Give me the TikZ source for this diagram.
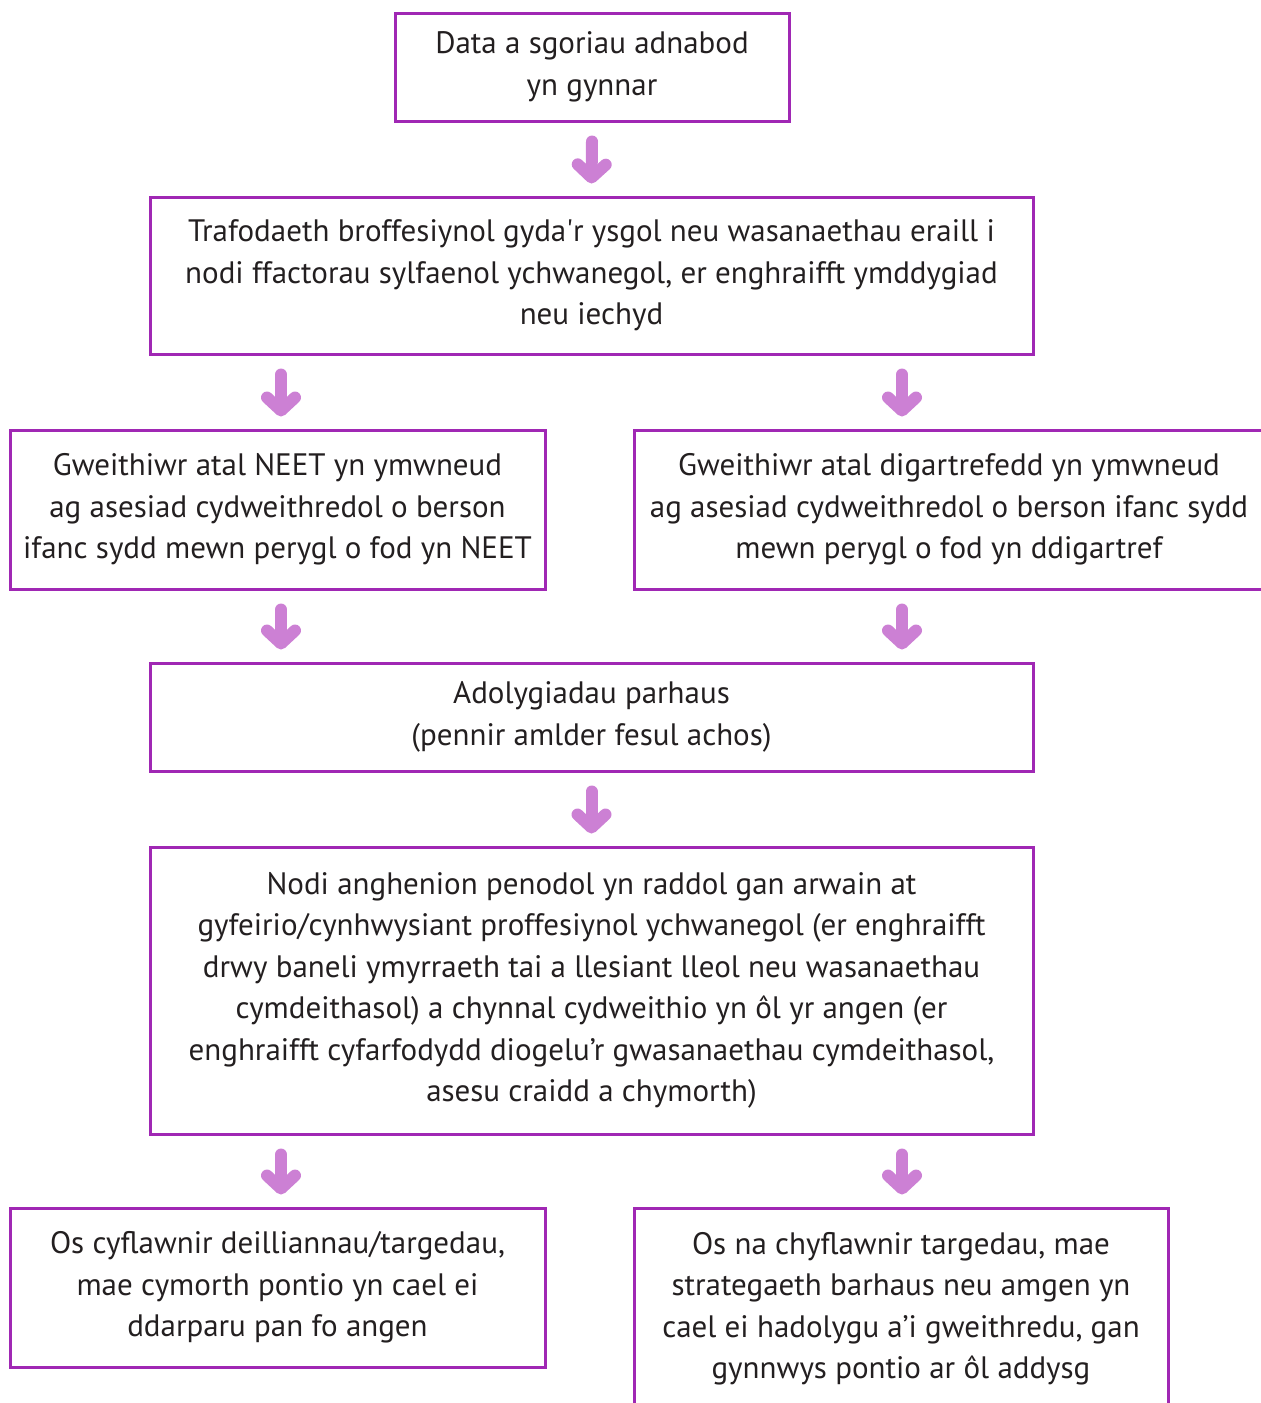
\documentclass[tikz,border=0pt]{standalone}
\usepackage{fontspec}
\setmainfont{PT Sans}
\usetikzlibrary{arrows.meta}
\definecolor{boxpurple}{RGB}{160,40,180}
\definecolor{arrowpink}{RGB}{204,128,212}
\definecolor{textgrey}{RGB}{35,31,32}
\tikzset{
  stagebox/.style={draw=boxpurple, line width=1.5pt, rectangle, inner sep=0pt,
    align=center, text=textgrey, font=\fontsize{15.5}{20.75}\selectfont},
  flowarrow/.style={draw=arrowpink, line width=6pt, line cap=round,
    -{Straight Barb[round, length=6.5pt, width=14pt]}}
}
\begin{document}
\begin{tikzpicture}[x=0.5pt, y=-0.5pt]
  \path[use as bounding box] (0,0) rectangle (1261,1403);
  \coordinate (lcol) at (281,0);
  \coordinate (rcol) at (902,0);
  \node[stagebox, minimum width=197pt, minimum height=54pt] at (592,67) (data)
    {Data a sgoriau adnabod\\yn gynnar};
  \node[stagebox, minimum width=441.5pt, minimum height=78.5pt] at (591.5,275.5) (talk)
    {Trafodaeth broffesiynol gyda\textquotesingle r ysgol neu wasanaethau eraill i\\nodi ffactorau sylfaenol ychwanegol, er enghraifft ymddygiad\\neu iechyd};
  \node[stagebox, minimum width=267.5pt, minimum height=79.5pt] at (277.5,509.5) (neet)
    {Gweithiwr atal NEET yn ymwneud\\ag asesiad cydweithredol o berson\\ifanc sydd mewn perygl o fod yn NEET};
  \node[stagebox, minimum width=315pt, minimum height=79.5pt] at (949,509.5) (homeless)
    {Gweithiwr atal digartrefedd yn ymwneud\\ag asesiad cydweithredol o berson ifanc sydd\\mewn perygl o fod yn ddigartref};
  \node[stagebox, minimum width=441.5pt, minimum height=54pt] at (591.5,717) (review)
    {Adolygiadau parhaus\\(pennir amlder fesul achos)};
  \node[stagebox, minimum width=441.5pt, minimum height=143.5pt] at (591.5,990.5) (needs)
    {Nodi anghenion penodol yn raddol gan arwain at\\gyfeirio/cynhwysiant proffesiynol ychwanegol (er enghraifft\\drwy baneli ymyrraeth tai a llesiant lleol neu wasanaethau\\cymdeithasol) a chynnal cydweithio yn ôl yr angen (er\\enghraifft cyfarfodydd diogelu’r gwasanaethau cymdeithasol,\\asesu craidd a chymorth)};
  \node[stagebox, minimum width=267.5pt, minimum height=79.5pt] at (277.5,1287.5) (met)
    {Os cyflawnir deilliannau/targedau,\\mae cymorth pontio yn cael ei\\ddarparu pan fo angen};
  \node[stagebox, minimum width=267pt, minimum height=100.5pt] at (901,1308.5) (notmet)
    {Os na chyflawnir targedau, mae\\strategaeth barhaus neu amgen yn\\cael ei hadolygu a’i gweithredu, gan\\gynnwys pontio ar ôl addysg};
  \draw[flowarrow] ([yshift=-9.5pt]data.south) -- ([yshift=6pt]talk.north);
  \draw[flowarrow] ([yshift=-9.5pt]talk.south -| lcol) -- ([yshift=6pt]neet.north -| lcol);
  \draw[flowarrow] ([yshift=-9.5pt]talk.south -| rcol) -- ([yshift=6pt]homeless.north -| rcol);
  \draw[flowarrow] ([yshift=-9.5pt]neet.south -| lcol) -- ([yshift=6pt]review.north -| lcol);
  \draw[flowarrow] ([yshift=-9.5pt]homeless.south -| rcol) -- ([yshift=6pt]review.north -| rcol);
  \draw[flowarrow] ([yshift=-9.5pt]review.south) -- ([yshift=6pt]needs.north);
  \draw[flowarrow] ([yshift=-9.5pt]needs.south -| lcol) -- ([yshift=6pt]met.north -| lcol);
  \draw[flowarrow] ([yshift=-9.5pt]needs.south -| rcol) -- ([yshift=6pt]notmet.north -| rcol);
\end{tikzpicture}
\end{document}
